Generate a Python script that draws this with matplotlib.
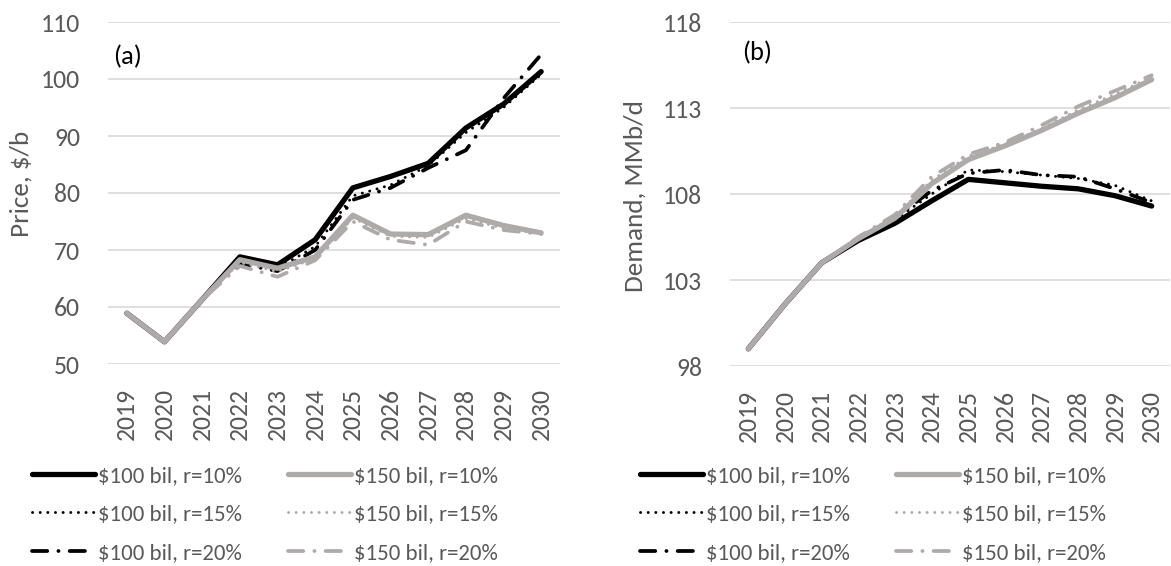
import matplotlib
matplotlib.use("Agg")
import matplotlib.pyplot as plt
from matplotlib import font_manager

# ---- data ----
years = [2019, 2020, 2021, 2022, 2023, 2024, 2025, 2026, 2027, 2028, 2029, 2030]
year_labels = [str(y) for y in years]

series_labels = ["$100 bil, r=10%", "$100 bil, r=15%", "$100 bil, r=20%",
                 "$150 bil, r=10%", "$150 bil, r=15%", "$150 bil, r=20%"]

price_100_r10 = [58.9, 53.9, 61.3, 68.8, 67.4, 71.8, 80.9, 82.9, 85.2, 91.4, 95.6, 101.3]
price_100_r15 = [58.9, 53.9, 61.3, 68.2, 66.8, 70.6, 79.5, 81.4, 84.8, 90.6, 95.0, 100.8]
price_100_r20 = [58.9, 53.9, 61.3, 67.6, 66.3, 70.0, 78.8, 80.9, 84.4, 87.5, 96.6, 104.3]
price_150_r10 = [58.9, 53.9, 61.3, 68.3, 66.8, 68.8, 76.1, 72.8, 72.7, 76.1, 74.3, 73.0]
price_150_r15 = [58.9, 53.9, 61.3, 67.8, 66.2, 68.5, 75.6, 72.4, 72.2, 75.5, 73.8, 72.8]
price_150_r20 = [58.9, 53.9, 61.3, 67.2, 65.3, 68.2, 75.0, 71.8, 70.9, 75.0, 73.5, 72.8]

demand_100_r10 = [99.0, 101.6, 104.0, 105.3, 106.3, 107.6, 108.85, 108.65, 108.45, 108.3, 107.9, 107.3]
demand_100_r15 = [99.0, 101.6, 104.0, 105.4, 106.5, 108.0, 109.4, 109.3, 109.1, 108.9, 108.5, 107.6]
demand_100_r20 = [99.0, 101.6, 104.0, 105.4, 106.6, 108.2, 109.2, 109.4, 109.1, 109.0, 108.3, 107.5]
demand_150_r10 = [99.0, 101.6, 104.0, 105.4, 106.6, 108.6, 110.0, 110.8, 111.7, 112.7, 113.6, 114.65]
demand_150_r15 = [99.0, 101.6, 104.0, 105.5, 106.7, 108.8, 110.2, 110.9, 111.8, 112.9, 113.8, 114.8]
demand_150_r20 = [99.0, 101.6, 104.0, 105.5, 106.8, 109.0, 110.3, 111.0, 112.0, 113.1, 114.0, 114.9]

price_ticks = [50, 60, 70, 80, 90, 100, 110]
demand_ticks = [98, 103, 108, 113, 118]

# ---- style ----
installed = {f.name for f in font_manager.fontManager.ttflist}
plt.rcParams["font.family"] = ["Carlito", "Lato", "DejaVu Sans"] if "Carlito" in installed else ["Lato", "DejaVu Sans"]
plt.rcParams["lines.scale_dashes"] = False

TXT = "#595959"
GRID = "#d9d9d9"
BLACK = "#000000"
GRAY = "#aeaaaa"

styles = [
    dict(color=BLACK, lw=3.8, ls="-", solid_capstyle="round"),
    dict(color=BLACK, lw=2.1, ls=(0, (0.1, 5.4)), dash_capstyle="round"),
    dict(color=BLACK, lw=2.7, ls=(0, (11, 8, 0.1, 8)), dash_capstyle="round"),
    dict(color=GRAY, lw=3.8, ls="-", solid_capstyle="round"),
    dict(color=GRAY, lw=2.1, ls=(0, (0.1, 5.4)), dash_capstyle="round"),
    dict(color=GRAY, lw=2.7, ls=(0, (11, 8, 0.1, 8)), dash_capstyle="round"),
]

W, H = 1171, 566
fig = plt.figure(figsize=(W / 100, H / 100), dpi=100)

ax_a = fig.add_axes([108 / W, 1 - 364 / H, (560 - 108) / W, (364 - 22) / H])
ax_b = fig.add_axes([730 / W, 1 - 366 / H, (1170 - 730) / W, (366 - 22) / H])

price_series = [price_100_r10, price_100_r15, price_100_r20,
                price_150_r10, price_150_r15, price_150_r20]
demand_series = [demand_100_r10, demand_100_r15, demand_100_r20,
                 demand_150_r10, demand_150_r15, demand_150_r20]

x = list(range(len(years)))


def draw_panel(ax, data, ticks, ylabel, tag, tag_xy, label_xy):
    handles = []
    for vals, st, lab in zip(data, styles, series_labels):
        h, = ax.plot(x, vals, label=lab, **st)
        handles.append(h)
    ax.set_xlim(-0.5, len(years) - 0.5)
    ax.set_ylim(ticks[0], ticks[-1])
    ax.set_yticks(ticks)
    ax.set_xticks(x)
    ax.set_xticklabels(year_labels, rotation=90)
    ax.grid(axis="y", color=GRID, lw=1.2)
    ax.set_axisbelow(True)
    for s in ax.spines.values():
        s.set_visible(False)
    ax.tick_params(axis="both", length=0, labelsize=18.5, colors=TXT)
    ax.tick_params(axis="y", pad=20)
    ax.tick_params(axis="x", pad=17)
    ax.set_ylabel(ylabel, fontsize=19.5, color=TXT)
    ax.yaxis.set_label_coords(*label_xy)
    ax.text(tag_xy[0], tag_xy[1], tag, transform=ax.transAxes, fontsize=19,
            color="black", ha="left", va="center")
    return handles


h_a = draw_panel(ax_a, price_series, price_ticks, "Price, $/b", "(a)",
                 ((113 - 108) / 452, (364 - 57) / 342),
                 (-(108 - 33) / 452, (364 - 184) / 342))
h_b = draw_panel(ax_b, demand_series, demand_ticks, "Demand, MMb/d", "(b)",
                 ((742 - 730) / 440, (366 - 53) / 344),
                 (-(730 - 647) / 440, (366 - 196) / 344))

leg_kw = dict(ncol=2, frameon=False, fontsize=16.5, handlelength=2.75,
              handletextpad=0.13, columnspacing=2.0, labelspacing=0.8,
              borderpad=0, borderaxespad=0, labelcolor=TXT, loc="upper left")
fig.legend(handles=h_a, bbox_to_anchor=(32 / W, 1 - 466 / H), **leg_kw)
fig.legend(handles=h_b, bbox_to_anchor=(640 / W, 1 - 466 / H), **leg_kw)

fig.savefig("out.png", dpi=100)
